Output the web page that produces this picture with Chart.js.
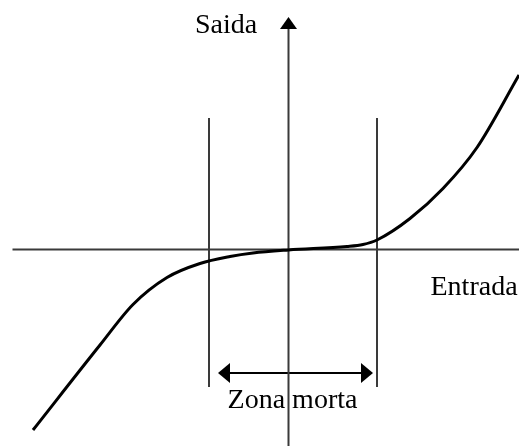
<!DOCTYPE html>
<html lang="pt">
<head>
  <meta charset="UTF-8">
  <title>Zona morta</title>
  <script src="https://cdn.jsdelivr.net/npm/chart.js"></script>
  <style>
    body { margin: 0; background: #fff; }
    #wrap { width: 519px; height: 446px; }
  </style>
</head>
<body>
<div id="wrap"><canvas id="zonaChart" width="519" height="446"></canvas></div>

<script>
// eixo: origem no cruzamento entrada/saida (unidades ~ pixels)
const xRange = [-288.5, 230.5];
const yRange = [-196.5, 249.5];

// curva entrada x saida
const entrada = [-255.5, -188.5, -155.5, -121.5, -88.5, -58.5, -35.5, 0, 58.5, 74.5, 88.5, 121.5, 154.5, 188.5, 230.5];
const saida   = [-180.5, -95.5, -55, -28, -14, -7, -3.5, -0.5, 3, 5, 9.5, 31, 61, 102, 174.5];

// limites da zona morta e guias
const zonaMorta = [-79.5, 88.5];
const guiaY = [-137.5, 131.5];
const setaZona = { y: -123.5, de: -70.5, ate: 84.5, ponta: 12, meia: 10 };
const eixoHorizInicio = -276;
const setaSaida = { topo: 232.5, base: 220.5, meia: 8.5 };

// textos
const rotulos = [
  { texto: "Saida", x: -93.5, y: 216.5, align: "left" },
  { texto: "Entrada", x: 142, y: -45.5, align: "left" },
  { texto: "Zona morta", x: 4, y: -158.5, align: "center" }
];

const corEixo = "#3a3a3a";

function linha(pts, cor, larg) {
  return {
    data: pts, showLine: true, borderColor: cor, borderWidth: larg,
    pointRadius: 0, order: 1, tension: 0
  };
}

const setasPlugin = {
  id: "setas",
  afterDatasetsDraw(chart) {
    const ctx = chart.ctx;
    const sx = chart.scales.x, sy = chart.scales.y;
    ctx.save();
    ctx.fillStyle = "#000";
    // seta do eixo de saida
    ctx.beginPath();
    ctx.moveTo(sx.getPixelForValue(0), sy.getPixelForValue(setaSaida.topo));
    ctx.lineTo(sx.getPixelForValue(-setaSaida.meia), sy.getPixelForValue(setaSaida.base));
    ctx.lineTo(sx.getPixelForValue(setaSaida.meia), sy.getPixelForValue(setaSaida.base));
    ctx.closePath();
    ctx.fill();
    // setas da zona morta
    [[setaZona.de, 1], [setaZona.ate, -1]].forEach(([xp, d]) => {
      ctx.beginPath();
      ctx.moveTo(sx.getPixelForValue(xp), sy.getPixelForValue(setaZona.y));
      ctx.lineTo(sx.getPixelForValue(xp + d * setaZona.ponta), sy.getPixelForValue(setaZona.y + setaZona.meia));
      ctx.lineTo(sx.getPixelForValue(xp + d * setaZona.ponta), sy.getPixelForValue(setaZona.y - setaZona.meia));
      ctx.closePath();
      ctx.fill();
    });
    // rotulos
    ctx.font = '28px "Liberation Serif", "Times New Roman", serif';
    ctx.textBaseline = "alphabetic";
    rotulos.forEach(r => {
      ctx.textAlign = r.align;
      ctx.fillText(r.texto, sx.getPixelForValue(r.x), sy.getPixelForValue(r.y));
    });
    ctx.restore();
  }
};

const curva = entrada.map((x, i) => ({ x, y: saida[i] }));

new Chart(document.getElementById("zonaChart"), {
  type: "scatter",
  data: {
    datasets: [
      {
        data: curva, showLine: true, borderColor: "#000", borderWidth: 3,
        pointRadius: 0, cubicInterpolationMode: "monotone", order: 0
      },
      linha([{ x: eixoHorizInicio, y: 0 }, { x: xRange[1], y: 0 }], corEixo, 2),
      linha([{ x: 0, y: yRange[0] }, { x: 0, y: setaSaida.base }], corEixo, 2),
      linha([{ x: zonaMorta[0], y: guiaY[0] }, { x: zonaMorta[0], y: guiaY[1] }], corEixo, 2),
      linha([{ x: zonaMorta[1], y: guiaY[0] }, { x: zonaMorta[1], y: guiaY[1] }], corEixo, 2),
      linha([{ x: setaZona.de + 4, y: setaZona.y }, { x: setaZona.ate - 4, y: setaZona.y }], "#000", 2)
    ]
  },
  options: {
    responsive: false,
    animation: false,
    devicePixelRatio: 1,
    layout: { padding: 0 },
    scales: {
      x: { type: "linear", display: false, min: xRange[0], max: xRange[1] },
      y: { type: "linear", display: false, min: yRange[0], max: yRange[1] }
    },
    plugins: { legend: { display: false }, tooltip: { enabled: false } }
  },
  plugins: [setasPlugin]
});
</script>
</body>
</html>
